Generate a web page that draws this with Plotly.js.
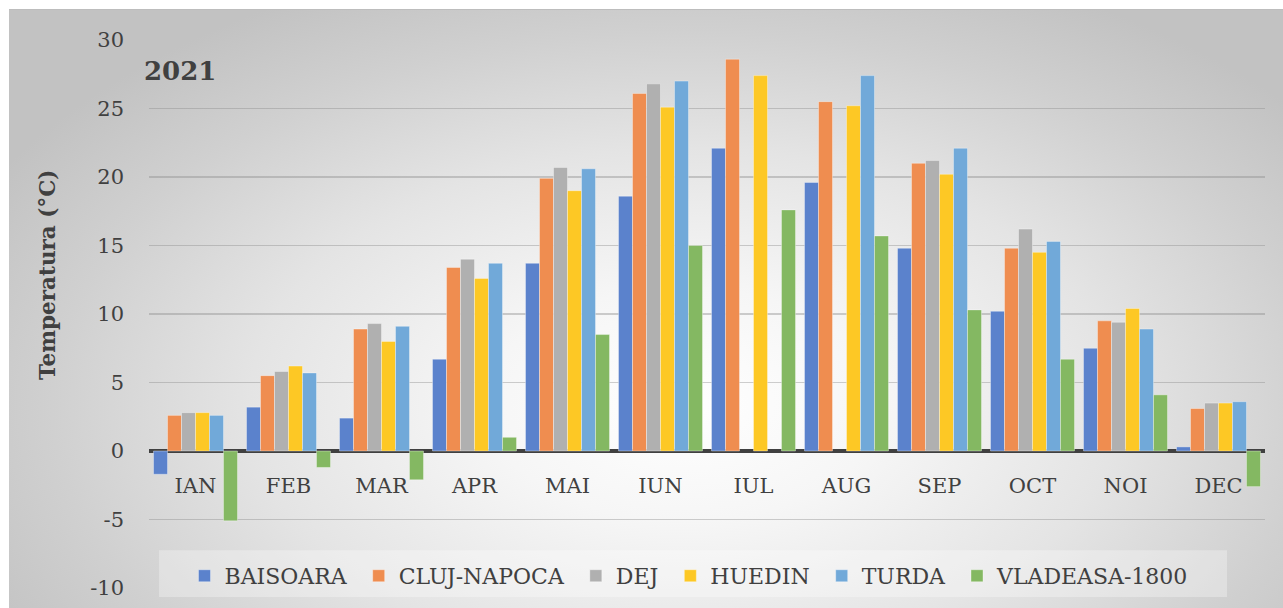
<!DOCTYPE html>
<html>
<head>
<meta charset="utf-8">
<script src="https://cdn.plot.ly/plotly-3.0.1.min.js"></script>
<style>
  html, body { margin: 0; padding: 0; background: #ffffff; width: 1283px; height: 608px; overflow: hidden; }
  #wrap { position: absolute; left: 9px; top: 9px; width: 1274px; height: 599px;
    border-top: 1px solid #bdbdbd; box-sizing: border-box;
    background: radial-gradient(ellipse 62% 78% at 53% 66%, #ffffff 0%, #f6f6f6 25%, #e4e4e4 55%, #d0d0d0 80%, #c2c2c2 100%); }
  #chart { position: absolute; left: 0; top: -1px; width: 1274px; height: 599px; }
</style>
</head>
<body>
<div id="wrap"><div id="chart"></div></div>
<script>
const months = ["IAN","FEB","MAR","APR","MAI","IUN","IUL","AUG","SEP","OCT","NOI","DEC"];
const stations = ["BAISOARA","CLUJ-NAPOCA","DEJ","HUEDIN","TURDA","VLADEASA-1800"];
const baisoara = [-1.7, 3.2, 2.4, 6.7, 13.7, 18.6, 22.1, 19.6, 14.8, 10.2, 7.5, 0.3];
const clujNapoca = [2.6, 5.5, 8.9, 13.4, 19.9, 26.1, 28.6, 25.5, 21.0, 14.8, 9.5, 3.1];
const dej = [2.8, 5.8, 9.3, 14.0, 20.7, 26.8, null, null, 21.2, 16.2, 9.4, 3.5];
const huedin = [2.8, 6.2, 8.0, 12.6, 19.0, 25.1, 27.4, 25.2, 20.2, 14.5, 10.4, 3.5];
const turda = [2.6, 5.7, 9.1, 13.7, 20.6, 27.0, null, 27.4, 22.1, 15.3, 8.9, 3.6];
const vladeasa = [-5.1, -1.2, -2.1, 1.0, 8.5, 15.0, 17.6, 15.7, 10.3, 6.7, 4.1, -2.6];
const yTicks = [-10, -5, 0, 5, 10, 15, 20, 25, 30];

const series = [baisoara, clujNapoca, dej, huedin, turda, vladeasa];
const colors = ["#5b82cc", "#ef8d50", "#b0b0b0", "#fdc825", "#71a9d9", "#84b862"];
const FONT = "DejaVu Serif";

const traces = series.map((vals, i) => ({
  type: "bar",
  name: stations[i] + "\u00a0",
  x: months,
  y: vals,
  marker: { color: colors[i], line: { color: "rgba(255,255,255,0.35)", width: 1 } },
  hoverinfo: "skip"
}));

const layout = {
  width: 1274, height: 599,
  margin: { l: 140, r: 18, t: 31, b: 19 },
  paper_bgcolor: "rgba(0,0,0,0)",
  plot_bgcolor: "rgba(0,0,0,0)",
  barmode: "group",
  bargap: 0.097,
  bargroupgap: 0,
  showlegend: true,
  legend: {
    orientation: "h",
    x: 0.487, xanchor: "center",
    y: 0.062, yanchor: "top",
    bgcolor: "rgba(0,0,0,0)",
    font: { family: FONT, size: 22, color: "#404040" },
    traceorder: "normal",
    itemwidth: 30
  },
  font: { family: FONT, color: "#404040" },
  xaxis: {
    type: "category",
    anchor: "free",
    position: 0.25,
    showgrid: false,
    showline: false,
    zeroline: false,
    ticks: "",
    ticklabelstandoff: 20,
    tickfont: { family: FONT, size: 21, color: "#404040" },
    fixedrange: true
  },
  yaxis: {
    range: [-10, 30],
    tickvals: yTicks,
    ticktext: yTicks.map(String),
    showgrid: true,
    gridcolor: "rgba(140,140,140,0.42)",
    gridwidth: 1.5,
    zeroline: true,
    zerolinecolor: "#404040",
    zerolinewidth: 4,
    showline: false,
    ticks: "",
    ticklabelstandoff: 24,
    tickfont: { family: FONT, size: 21, color: "#404040" },
    fixedrange: true
  },
  shapes: [{
    type: "rect", xref: "paper", yref: "paper", layer: "below",
    x0: 0.009, x1: 0.966, y0: -0.0164, y1: 0.069,
    fillcolor: "rgba(255,255,255,0.3)", line: { width: 0 }
  }],
  annotations: [
    { text: "<b>2021</b>", xref: "paper", yref: "paper", x: -0.006, y: 0.943,
      xanchor: "left", yanchor: "middle", showarrow: false,
      font: { family: FONT, size: 26, color: "#404040" } },
    { text: "<b>Temperatura (°C)</b>", xref: "paper", yref: "paper", x: -0.0915, y: 0.571,
      xanchor: "center", yanchor: "middle", textangle: -90, showarrow: false,
      font: { family: FONT, size: 21.5, color: "#404040" } }
  ]
};

Plotly.newPlot("chart", traces, layout, { staticPlot: true, displayModeBar: false });
</script>
</body>
</html>
